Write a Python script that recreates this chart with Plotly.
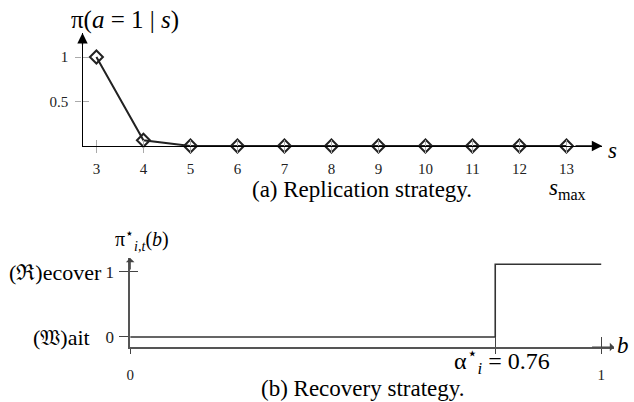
import plotly.graph_objects as go

# ---- data: (a) replication strategy ----
S_VALUES = [3, 4, 5, 6, 7, 8, 9, 10, 11, 12, 13]
PI_REPLICATE = [1.0, 0.065, 0, 0, 0, 0, 0, 0, 0, 0, 0]
Y_TICKS_A = [0.5, 1]
Y_TICK_TEXT_A = ["0.5", "1"]

# ---- data: (b) recovery strategy ----
B_STEP = [0, 0.775, 0.775, 1]
PI_RECOVER = [0, 0, 1.12, 1.12]
X_TICKS_B = [0, 0.775, 1]
X_TICK_TEXT_B = ["0", "", "1"]
Y_TICKS_B = [0, 1]
Y_TICK_TEXT_B = ["0", "1"]

W, H = 634, 402
SERIF = "Liberation Serif, DejaVu Serif, serif"

fig = go.Figure()

fig.add_trace(go.Scatter(
    x=S_VALUES, y=PI_REPLICATE, mode="lines+markers", xaxis="x", yaxis="y",
    line=dict(color="#222", width=2),
    marker=dict(symbol="diamond-open", size=10, color="#222", line=dict(width=2)),
    cliponaxis=False, showlegend=False, hoverinfo="skip"))

fig.add_trace(go.Scatter(
    x=B_STEP, y=PI_RECOVER, mode="lines", xaxis="x2", yaxis="y2",
    line=dict(color="#333", width=1.6), cliponaxis=False,
    showlegend=False, hoverinfo="skip"))

# invisible traces for overlay tick axes
fig.add_trace(go.Scatter(x=[S_VALUES[0]], y=[None], xaxis="x3", yaxis="y3",
                         showlegend=False, hoverinfo="skip"))
fig.add_trace(go.Scatter(x=[B_STEP[0]], y=[None], xaxis="x4", yaxis="y4",
                         showlegend=False, hoverinfo="skip"))

xa_dom = [79 / W, 602 / W]
ya_dom = [(H - 146) / H, (H - 33) / H]
xa_rng = [2.704, 13.76]
ya_rng = [0, 1.27]

xb_dom = [127 / W, 614 / W]
yb_dom = [(H - 347) / H, (H - 258) / H]
xb_rng = [0, 1.0274]
yb_rng = [-0.154, 1.215]

tickfont_a = dict(family=SERIF, size=15, color="#222")
tickfont_bx = dict(family=SERIF, size=15, color="#222")
tickfont_by = dict(family=SERIF, size=17, color="#222")

fig.update_layout(
    width=W, height=H, margin=dict(l=0, r=0, t=0, b=0),
    paper_bgcolor="white", plot_bgcolor="rgba(0,0,0,0)",
    xaxis=dict(domain=xa_dom, range=xa_rng, anchor="y", showline=True,
               linecolor="black", linewidth=1.3, showgrid=False, zeroline=False,
               tickmode="array", tickvals=S_VALUES, ticks="outside", ticklen=6,
               tickcolor="#aaa", tickwidth=1, tickfont=tickfont_a,
               ticklabelstandoff=3),
    yaxis=dict(domain=ya_dom, range=ya_rng, anchor="x", showline=True,
               linecolor="black", linewidth=1.3, showgrid=False, zeroline=False,
               tickmode="array", tickvals=Y_TICKS_A, ticktext=Y_TICK_TEXT_A,
               ticks="outside", ticklen=6, tickcolor="#aaa", tickwidth=1,
               tickfont=tickfont_a, ticklabelstandoff=4),
    xaxis3=dict(domain=xa_dom, range=xa_rng, anchor="y3", overlaying="x",
                showline=False, showgrid=False, zeroline=False,
                tickmode="array", tickvals=S_VALUES, ticks="inside", ticklen=6,
                tickcolor="#aaa", showticklabels=False),
    yaxis3=dict(domain=ya_dom, range=ya_rng, anchor="x3", overlaying="y",
                showline=False, showgrid=False, zeroline=False,
                tickmode="array", tickvals=Y_TICKS_A, ticks="inside", ticklen=6,
                tickcolor="#aaa", showticklabels=False),
    xaxis2=dict(domain=xb_dom, range=xb_rng, anchor="y2", showline=True,
                linecolor="#555", linewidth=1.5, showgrid=False, zeroline=False,
                tickmode="array", tickvals=X_TICKS_B, ticktext=X_TICK_TEXT_B,
                ticks="outside", ticklen=5, tickcolor="#444", tickwidth=1.3,
                tickfont=tickfont_bx, ticklabelstandoff=8),
    yaxis2=dict(domain=yb_dom, range=yb_rng, anchor="x2", showline=True,
                linecolor="#555", linewidth=1.5, showgrid=False, zeroline=False,
                tickmode="array", tickvals=Y_TICKS_B, ticktext=Y_TICK_TEXT_B,
                ticks="outside", ticklen=9, tickcolor="#444", tickwidth=1.3,
                tickfont=tickfont_by, ticklabelstandoff=2),
    xaxis4=dict(domain=xb_dom, range=xb_rng, anchor="y4", overlaying="x2",
                showline=False, showgrid=False, zeroline=False,
                tickmode="array", tickvals=X_TICKS_B[1:], ticks="inside",
                ticklen=10, tickcolor="#444", tickwidth=1.3, showticklabels=False),
    yaxis4=dict(domain=yb_dom, range=yb_rng, anchor="x4", overlaying="y2",
                showline=False, showgrid=False, zeroline=False,
                tickmode="array", tickvals=Y_TICKS_B[1:], ticks="inside",
                ticklen=8, tickcolor="#444", tickwidth=1.3, showticklabels=False),
)

ann = []
# arrowheads (top panel, filled)
ann.append(dict(x=xa_rng[1], y=0, ax=xa_rng[1] - 0.6, ay=0, xref="x", yref="y",
                axref="x", ayref="y", showarrow=True, arrowhead=2, arrowsize=1.6,
                arrowwidth=1.3, arrowcolor="black", text=""))
ann.append(dict(x=xa_rng[0], y=ya_rng[1], ax=xa_rng[0], ay=ya_rng[1] - 0.15,
                xref="x", yref="y", axref="x", ayref="y", showarrow=True,
                arrowhead=2, arrowsize=1.6, arrowwidth=1.3, arrowcolor="black",
                text=""))
# arrowheads (bottom panel, open)
ann.append(dict(x=xb_rng[1], y=yb_rng[0], ax=xb_rng[1] - 0.05, ay=yb_rng[0],
                xref="x2", yref="y2", axref="x2", ayref="y2", showarrow=True,
                arrowhead=1, arrowsize=1.2, arrowwidth=1.2, arrowcolor="#444",
                text=""))
ann.append(dict(x=0, y=yb_rng[1], ax=0, ay=yb_rng[1] - 0.2,
                xref="x2", yref="y2", axref="x2", ayref="y2", showarrow=True,
                arrowhead=1, arrowsize=1.2, arrowwidth=1.2, arrowcolor="#444",
                text=""))


def txt(text, x, y, size, xanchor="center", yanchor="middle"):
    ann.append(dict(text=text, x=x / W, y=(H - y) / H, xref="paper",
                    yref="paper", showarrow=False, xanchor=xanchor,
                    yanchor=yanchor, font=dict(family=SERIF, size=size,
                                               color="black")))


txt("π(<i>a</i> = 1 | <i>s</i>)", 122, 20, 25)
txt("<i>s</i>", 612, 150, 23)
txt("(a) Replication strategy.", 360, 190, 23)
txt("<i>s</i><sub>max</sub>", 567, 189, 23)

txt("π<sup>⋆</sup><sub><i>i,t</i></sub>(<i>b</i>)", 139, 240, 20)
txt("(ℜ)ecover", 101, 272, 22, xanchor="right")
txt("(𝔚)ait", 89, 337, 22, xanchor="right")
txt("<i>b</i>", 623, 345, 23)
txt("α<sup>⋆</sup><sub><i>i</i></sub> = 0.76", 501, 361, 24)
txt("(b) Recovery strategy.", 361, 388, 23)

fig.update_layout(annotations=ann)
fig.write_html("out.html", config={"displayModeBar": False},
               post_script="document.body.style.margin='0px';")
